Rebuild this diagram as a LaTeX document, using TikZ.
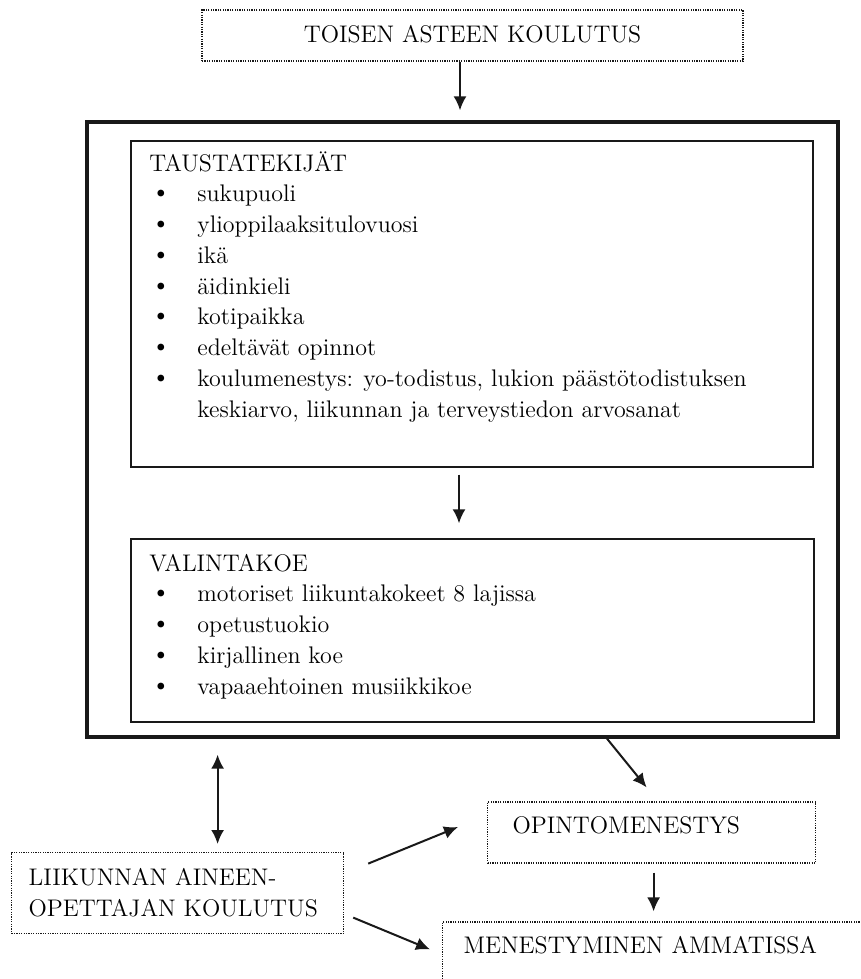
\documentclass[tikz,border=0pt]{standalone}
\usetikzlibrary{arrows.meta,fit}

\begin{document}
\begin{tikzpicture}[x=0.5pt,y=-0.5pt,font=\fontsize{12}{15.5}\selectfont,
  >={Latex[length=7pt,width=6.5pt]},
  dotted_box/.style={draw=box_line,line width=0.6pt,dash pattern=on 0.6pt off 0.6pt,inner ysep=0pt},
  plain_box/.style={draw=box_line,line width=0.65pt,inner sep=0pt},
  frame_box/.style={draw=box_line,line width=1.65pt,inner sep=0pt},
  list_text/.style={anchor=base west,inner sep=0pt},
  bullet_dot/.style={anchor=base,inner sep=0pt,font=\fontsize{15}{15}\selectfont},
  arrow_line/.style={draw=box_line,line width=1pt,->}]
\colorlet{box_line}{black!90}

\useasboundingbox (0,0) rectangle (861,979);
\clip (0,0) rectangle (861,979);

\node[dotted_box,anchor=base,minimum width=270.5pt,text height=16.5pt,text depth=9pt] (toisen) at (472.5,43) {TOISEN ASTEEN KOULUTUS};

\node[frame_box,fit={(87,122) (838,737)}] (frame) {};
\node[plain_box,fit={(131,141) (813,467)}] (taus) {};
\node[plain_box,fit={(131,539) (814,722)}] (valinta) {};

% Taustatekijat
\node[list_text] (taus_title) at (149,171) {TAUSTATEKIJÄT};
\foreach \i/\t in {1/sukupuoli,2/ylioppilaaksitulovuosi,3/ikä,4/äidinkieli,5/kotipaikka,6/edeltävät opinnot,{7/koulumenestys: yo-todistus, lukion päästötodistuksen}}{
\node[bullet_dot] (taus_dot\i) at ({161},{171+30.75*\i}) {\textbullet};
\node[list_text] (taus_item\i) at ({197},{171+30.75*\i}) {\t};
}
\node[list_text] (taus_item8) at (197,417) {keskiarvo, liikunnan ja terveystiedon arvosanat};

% Valintakoe
\node[list_text] (valinta_title) at (149,571) {VALINTAKOE};
\foreach \i/\t in {1/motoriset liikuntakokeet 8 lajissa,2/opetustuokio,3/kirjallinen koe,4/vapaaehtoinen musiikkikoe}{
\node[bullet_dot] (valinta_dot\i) at ({161},{571+30.75*\i}) {\textbullet};
\node[list_text] (valinta_item\i) at ({197},{571+30.75*\i}) {\t};
}

\node[dotted_box,anchor=north west,inner xsep=8.5pt,text width=149pt,align=left,minimum height=40.5pt] (liikunta) at (11,852) {LIIKUNNAN AINEEN-\\OPETTAJAN KOULUTUS};
\node[dotted_box,anchor=base west,inner xsep=12.5pt,text width=139pt,align=left,text height=15.5pt,text depth=15pt] (opinto) at (487,833) {OPINTOMENESTYS};
\node[dotted_box,anchor=base west,inner xsep=10.5pt,text width=200pt,align=left,text height=15.5pt,text depth=15pt] (menest) at (442,953) {MENESTYMINEN AMMATISSA};

\draw[arrow_line,shorten >=5pt] ([xshift=-6.25pt]toisen.south) -- ([xshift=-6.25pt]toisen.south |- frame.north);
\draw[arrow_line,shorten <=3.5pt,shorten >=7.5pt] ([xshift=-6.5pt]taus.south) -- ([xshift=-6.5pt]taus.south |- valinta.north);
\draw[arrow_line,<->,shorten <=8pt,shorten >=4pt] ([xshift=20pt]liikunta.north |- frame.south) -- ([xshift=20pt]liikunta.north);
\draw[arrow_line] ([xshift=72.25pt]frame.south) -- ([xshift=-2.5pt,yshift=7pt]opinto.north);
\draw[arrow_line] ([xshift=12pt,yshift=14.75pt]liikunta.east) -- ([xshift=-14.5pt,yshift=2.75pt]opinto.west);
\draw[arrow_line] ([xshift=4.5pt,yshift=-12.25pt]liikunta.east) -- ([xshift=-6pt,yshift=-14pt]menest.north west);
\draw[arrow_line,shorten <=4.5pt,shorten >=5pt] ([xshift=1pt]opinto.south) -- ([xshift=1pt]opinto.south |- menest.north);
\end{tikzpicture}
\end{document}
